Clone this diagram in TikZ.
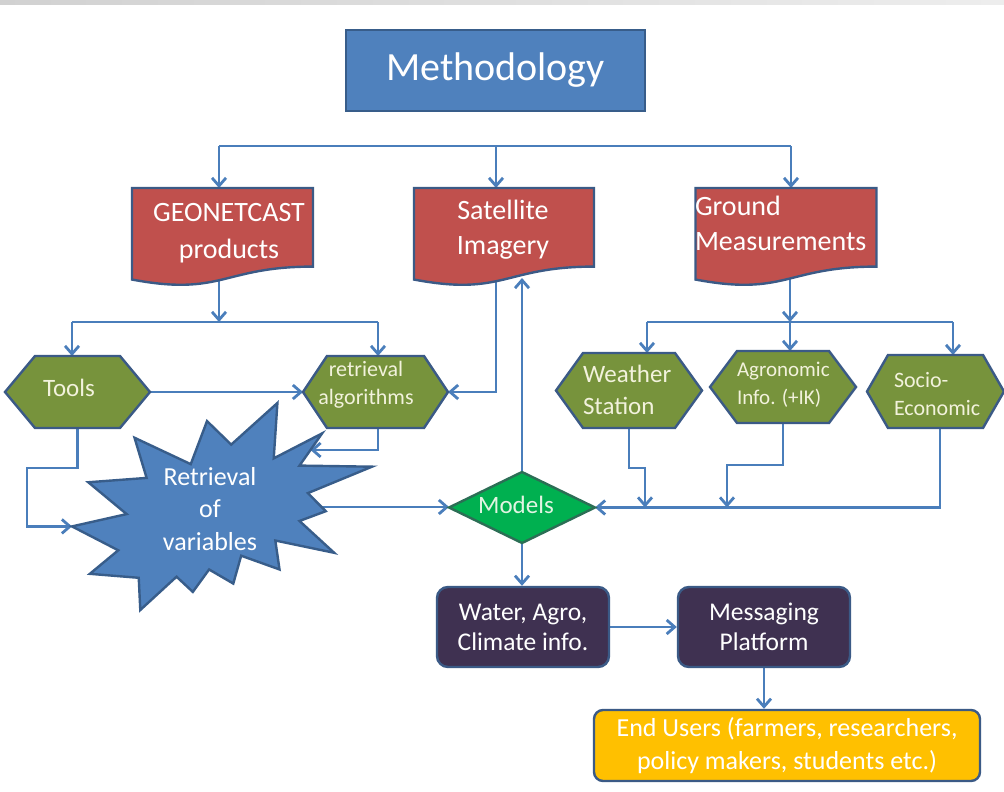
\documentclass[tikz,border=0pt]{standalone}
\usepackage{fontspec}
\setmainfont{Carlito}
\usetikzlibrary{arrows.meta,calc}
\definecolor{lineblue}{HTML}{4A7EBB}
\definecolor{boxblue}{HTML}{4F81BD}
\definecolor{boxblueD}{HTML}{385D8A}
\definecolor{docred}{HTML}{C0504D}
\definecolor{edgeslate}{HTML}{3B5A86}
\definecolor{olivefill}{HTML}{77933C}
\definecolor{mgreen}{HTML}{00B050}
\definecolor{mgreenD}{HTML}{2C6E55}
\definecolor{dpurple}{HTML}{3F3151}
\definecolor{goldfill}{HTML}{FFC000}
\definecolor{creamtext}{HTML}{F2F2DC}
\definecolor{mtext}{HTML}{E2F4E2}
\pgfdeclarelayer{bgzero}
\pgfdeclarelayer{connlayer}
\pgfdeclarelayer{shapelayer}
\pgfsetlayers{bgzero,connlayer,shapelayer,main}
\newcommand\docpath[1]{%
 \path[docshape] (#1.north west) -- (#1.north east) -- ($(#1.north east)!0.802!(#1.south east)$)
   .. controls ($(#1.north)!0.802!(#1.south)$) and ($(#1.north)!1.108!(#1.south)$) ..
   ($(#1.north west)!0.934!(#1.south west)$) -- cycle;}
\newcommand\hexpath[2]{%
 \path[hexshape] (#1.west) -- ([xshift=#2]#1.north west) -- ([xshift=-#2]#1.north east) -- (#1.east)
   -- ([xshift=-#2]#1.south east) -- ([xshift=#2]#1.south west) -- cycle;}
\begin{document}
\begin{tikzpicture}[x=1pt,y=-1pt,
  helper/.style={rectangle, draw=none, fill=none, inner sep=0pt, outer sep=0pt},
  lbl/.style={inner sep=0pt, outer sep=0pt, align=center, text=white},
  link/.style={draw=lineblue, line width=2.8pt},
  arr/.style={link, -{Straight Barb[length=8pt,width=14pt]}},
  docshape/.style={fill=docred, draw=edgeslate, line width=2.4pt},
  hexshape/.style={fill=olivefill, draw=edgeslate, line width=2.4pt},
  roundbox/.style={rectangle, rounded corners=11pt, fill=dpurple, draw=edgeslate, line width=2.4pt,
    text=white, align=center, inner sep=0pt, minimum width=172pt, minimum height=80pt,
    font=\fontsize{25.5}{30}\selectfont},
  docfont/.style={font=\fontsize{28}{37}\selectfont},
  hexfont/.style={font=\fontsize{22}{28}\selectfont, text=creamtext}
]
\useasboundingbox (0,0) rectangle (1004,792);
\begin{pgfonlayer}{bgzero}
  \fill[white] (0,0) rectangle (1004,792);
  \fill[left color=black!18, right color=black!7] (0,0) rectangle (1004,5);
\end{pgfonlayer}

% ---- nodes ----
\node[rectangle, fill=boxblue, draw=boxblueD, line width=2.4pt, minimum width=299pt, minimum height=81pt,
      inner sep=0pt, text=white, font=\fontsize{40}{44}\selectfont] (meth) at (495.5,70.5) {Methodology};

\node[helper, minimum width=181pt, minimum height=98pt] (geo) at (222.5,237) {};
\node[helper, minimum width=180pt, minimum height=98pt] (sat) at (504,237) {};
\node[helper, minimum width=181pt, minimum height=98pt] (grd) at (786,237) {};
\node[lbl, docfont] (geoT) at (229,233) {GEONETCAST\\products};
\node[lbl, docfont, font=\fontsize{28}{35}\selectfont] (satT) at (503,229.5) {Satellite\\Imagery};
\node[lbl, docfont, font=\fontsize{28}{35}\selectfont, align=left, anchor=west] (grdT) at (695,223) {Ground\\Measurements};

\node[helper, minimum width=145pt, minimum height=72pt] (tools) at (77.5,392) {};
\node[helper, minimum width=145pt, minimum height=72pt] (alg) at (375.5,392) {};
\node[helper, minimum width=146pt, minimum height=75pt] (wst) at (629,390.5) {};
\node[helper, minimum width=146pt, minimum height=72pt] (agr) at (783,387) {};
\node[helper, minimum width=137pt, minimum height=73pt] (soc) at (935.5,391.5) {};
\node[lbl, hexfont, font=\fontsize{25}{30}\selectfont] (toolsT) at (69,388) {Tools};
\node[lbl, hexfont] (algT) at (366,385) {retrieval\\algorithms};
\node[lbl, hexfont, font=\fontsize{25}{32}\selectfont, align=left, anchor=west] (wstT) at (583,390) {Weather\\Station};
\node[lbl, hexfont, font=\fontsize{21}{28}\selectfont, align=left, anchor=west] (agrT) at (737,385) {Agronomic\\Info. (+IK)};
\node[lbl, hexfont, align=left, anchor=west] (socT) at (894,394) {Socio-\\Economic};

\node[helper, minimum width=146pt, minimum height=71pt] (models) at (522,507.5) {};
\node[lbl, text=mtext, font=\fontsize{25}{30}\selectfont] (modelsT) at (516,505) {Models};

\node[lbl, font=\fontsize{26}{32.5}\selectfont, text=white] (starT) at (210,509) {Retrieval\\of\\variables};

\node[roundbox] (water) at (523,627) {Water, Agro,\\Climate info.};
\node[roundbox] (msg) at (764,627) {Messaging\\Platform};
\node[roundbox, fill=goldfill, rounded corners=9pt, minimum width=386pt, minimum height=71pt,
      text=white, font=\fontsize{26}{33}\selectfont] (endu) at (787,745.5)
      {End Users (farmers, researchers,\\policy makers, students etc.)};

% ---- shapes ----
\begin{pgfonlayer}{shapelayer}
  \docpath{geo}
  \docpath{sat}
  \docpath{grd}
  \hexpath{tools}{30pt}
  \hexpath{alg}{24pt}
  \hexpath{wst}{27pt}
  \hexpath{agr}{27pt}
  \hexpath{soc}{21pt}
  \path[fill=mgreen, draw=mgreenD, line width=2.4pt] (models.west) -- (models.north) -- (models.east) -- (models.south) -- cycle;
  \begin{scope}[shift={(72,403)}, x=1.388889pt, y=-0.958333pt]
    \path[fill=boxblue, draw=boxblueD, line width=2.4pt]
      (114.62,43.42) -- (147.90,0) -- (145.25,57.77) -- (180.07,31.72) -- (163.80,65.32) -- (216.00,66.45)
      -- (169.85,94.02) -- (182.70,112.90) -- (163.80,123.10) -- (188.77,156.32) -- (146.40,143.50)
      -- (149.42,173.70) -- (121.80,159.35) -- (116.12,188.42) -- (98.72,173.70) -- (87.00,197.12)
      -- (75.27,181.25) -- (49.17,216.00) -- (48.05,182.40) -- (12.85,178.25) -- (33.30,153.70)
      -- (0,128.77) -- (39.35,115.92) -- (11.72,82.70) -- (53.72,78.17) -- (45.02,36.25)
      -- (85.50,63.82) -- (97.22,18.87) -- cycle;
    \coordinate (starNE) at (171.7,49.0);
    \coordinate (starW) at (0,128.77);
    \coordinate (starE) at (179.7,108.5);
  \end{scope}
\end{pgfonlayer}

% ---- connectors ----
\coordinate (barL) at (219,146);
\coordinate (barM) at (496,146);
\coordinate (barR) at (791,146);
\coordinate (b2) at (219,322);
\coordinate (b2L) at (72,322);
\coordinate (b2R) at (378,322);
\coordinate (b3) at (790,322);
\coordinate (b3L) at (647,322);
\coordinate (b3R) at (953,322);
\coordinate (tj) at (27,468);
\coordinate (wj) at (645,468);
\coordinate (aj) at (727,465);
\coordinate (satwave) at (522,278);
\begin{pgfonlayer}{connlayer}
  \draw[link] (barL) -- (barR);
  \draw[arr] (barL) -- (barL |- geo.north);
  \draw[arr] (barM) -- (barM |- sat.north);
  \draw[arr] (barR) -- (barR |- grd.north);
  \draw[arr] (b2 |- geo.center) -- (b2);
  \draw[link] (b2L) -- (b2R);
  \draw[arr] (b2L) -- (b2L |- tools.north);
  \draw[arr] (b2R) -- (b2R |- alg.north);
  \draw[arr] (tools.east) -- (alg.west);
  \draw[arr] ([xshift=-8pt]sat.center) |- (alg.east);
  \draw[arr] (models.north) -- (satwave);
  \draw[arr] ([xshift=2.5pt]alg.south) |- (starNE);
  \draw[arr] (tools.south) |- (tj) |- (starW);
  \draw[arr] (starE) -- (starE -| models.west);
  \draw[arr] (b3 |- grd.center) -- (b3);
  \draw[link] (b3L) -- (b3R);
  \draw[arr] (b3L) -- (b3L |- wst.north);
  \draw[arr] (b3) -- (b3 |- agr.north);
  \draw[arr] (b3R) -- (b3R |- soc.north);
  \draw[arr] (wst.south) |- (wj) -- (wj |- models.east);
  \draw[arr] (agr.south) |- (aj) -- (aj |- models.east);
  \draw[arr] ([xshift=4.5pt]soc.south) |- (models.east);
  \draw[arr] (models.south) -- (models.south |- water.north);
  \draw[arr] (water.east) -- (msg.west);
  \draw[arr] (msg.south) -- (msg.south |- endu.north);
\end{pgfonlayer}
\end{tikzpicture}
\end{document}
